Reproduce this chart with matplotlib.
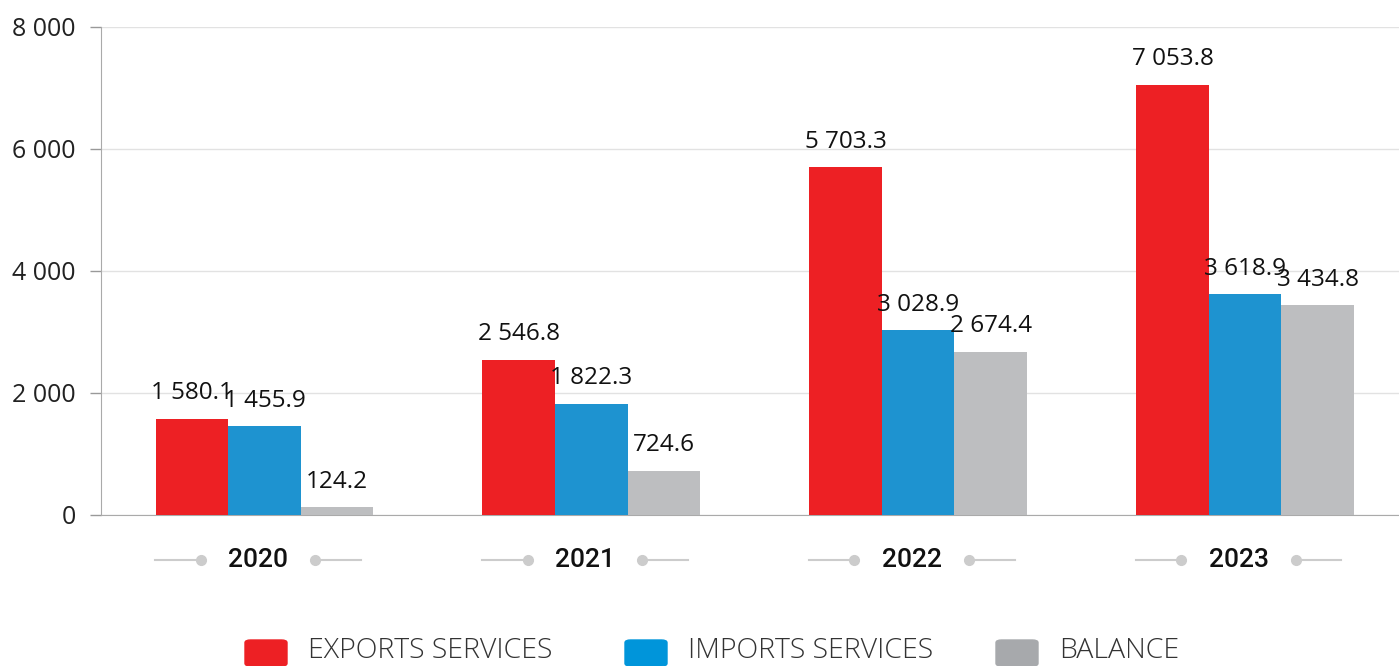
import matplotlib
matplotlib.use("Agg")
import matplotlib.pyplot as plt
from matplotlib.patches import FancyBboxPatch
from matplotlib.lines import Line2D
import numpy as np

years = ["2020", "2021", "2022", "2023"]
exports = [1580.1, 2546.8, 5703.3, 7053.8]
imports = [1455.9, 1822.3, 3028.9, 3618.9]
balance = [124.2, 724.6, 2674.4, 3434.8]
series_names = ["EXPORTS SERVICES", "IMPORTS SERVICES", "BALANCE"]
bar_colors = ["#ED2024", "#1E93D0", "#BDBEC0"]
legend_colors = ["#ED2024", "#0095DA", "#A7A9AC"]
yticks = [0, 2000, 4000, 6000, 8000]

plt.rcParams['font.family'] = ['Open Sans', 'DejaVu Sans']


def fmt(v, decimals=1):
    s = f"{v:,.{decimals}f}"
    return s.replace(",", " ")


fig = plt.figure(figsize=(13.99, 6.66), dpi=100)
ax = fig.add_axes([101 / 1399, 151 / 666, 1298 / 1399, 488 / 666])

x = np.arange(len(years))
w = 0.222
for i, (vals, col) in enumerate(zip([exports, imports, balance], bar_colors)):
    pos = x + (i - 1) * w
    bars = ax.bar(pos, vals, width=w, color=col, zorder=3)
    for b, v in zip(bars, vals):
        ax.annotate(fmt(v), (b.get_x() + b.get_width() / 2, v),
                    xytext=(0, 14), textcoords="offset points",
                    ha="center", va="baseline", fontsize=17.5, color="#111111")

ax.set_xlim(-0.5, 3.471)
ax.set_ylim(0, 8000)
ax.set_yticks(yticks)
ax.set_yticklabels([fmt(t, 0) for t in yticks], fontsize=18, color="#222222")
ax.tick_params(axis="y", length=8, width=1, color="#999999", pad=10)
ax.set_xticks([])
ax.grid(axis="y", color="#E2E2E2", linewidth=1, zorder=0)
for s in ["top", "right"]:
    ax.spines[s].set_visible(False)
ax.spines["left"].set_color("#AAAAAA")
ax.spines["bottom"].set_color("#AAAAAA")

# year labels with decoration
for xi, yr in zip(x, years):
    trans = ax.get_xaxis_transform()
    cx = xi - 0.02
    ax.text(cx, -0.092, yr, transform=trans, ha="center", va="center",
            fontsize=19, fontweight="medium", family=["Roboto", "DejaVu Sans"],
            color="#111111", clip_on=False)
    for side in (-1, 1):
        ax.add_line(Line2D([cx + side * 0.175, cx + side * 0.315], [-0.092, -0.092],
                           transform=trans, color="#CCCCCC", lw=1.5, clip_on=False))
        ax.add_line(Line2D([cx + side * 0.175], [-0.092], transform=trans,
                           marker="o", markersize=7, color="#CCCCCC", clip_on=False))

# legend drawn manually at the bottom
legend_x = [245, 625, 996]
for lx, name, col in zip(legend_x, series_names, legend_colors):
    patch = FancyBboxPatch((lx / 1399, 0 / 666), 42 / 1399, 26 / 666,
                           boxstyle="round,pad=0,rounding_size=0.004",
                           transform=fig.transFigure, color=col, clip_on=False)
    fig.patches.append(patch)
    fig.text((lx + 63) / 1399, 8 / 666, name, ha="left", va="baseline",
             fontsize=20.5, fontweight="light", color="#333333")

fig.savefig("out.png", dpi=100)
